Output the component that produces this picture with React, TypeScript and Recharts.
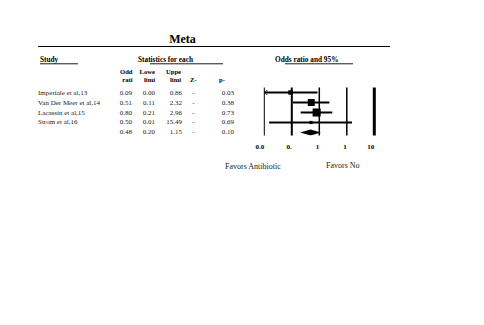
import { Area, ComposedChart, ReferenceLine, Scatter, XAxis, YAxis } from "recharts";

// Study rows (top to bottom) of the forest plot
const studies = ["Imperiale et al,13", "Van Der Meer et al,14", "Lacassin et al,15", "Strom et al,16"];
const oddsRatio = [0.09, 0.51, 0.8, 0.5];
const lowerLimit = [0.004, 0.11, 0.21, 0.015];
const upperLimit = [0.86, 2.32, 2.96, 15.49];
const pValue = [0.03, 0.38, 0.73, 0.69];
const studyWeight = [14, 34, 45, 7];

// Pooled estimate
const pooledOdds = 0.48;
const pooledLower = 0.2;
const pooledUpper = 1.15;
const pooledP = 0.1;

const xTicks = [0.01, 0.1, 1, 10, 100];
const tickLabels = ["0.0", "0.", "1", "1", "10"];

const X_MIN = xTicks[0];
const X_MAX = xTicks[xTicks.length - 1];
const SUMMARY_ROW = studies.length + 1;
const FONT = "'Liberation Serif', 'Times New Roman', serif";
const lineWidths = [1, 2, 1.5, 1.5, 3];

const squares = studies.map((s, i) => ({ x: oddsRatio[i], y: i + 1, w: studyWeight[i] }));
const intervals = studies.map((s, i) => [
  { x: Math.max(lowerLimit[i], X_MIN), y: i + 1, clipped: lowerLimit[i] < X_MIN },
  { x: upperLimit[i], y: i + 1, clipped: false },
]);
const diamond = [
  { x: pooledLower, d: [SUMMARY_ROW, SUMMARY_ROW] },
  { x: pooledOdds, d: [SUMMARY_ROW - 0.3, SUMMARY_ROW + 0.3] },
  { x: pooledUpper, d: [SUMMARY_ROW, SUMMARY_ROW] },
];

function Square(props: any) {
  const { cx, cy, payload } = props;
  const side = Math.sqrt(payload.w) * 1.2;
  return <rect x={cx - side / 2} y={cy - side / 2} width={side} height={side} fill="#000" />;
}

// Only the end that runs off the axis gets a little arrow head
function IntervalEnd(props: any) {
  const { cx, cy, payload } = props;
  if (!payload.clipped) return <g />;
  return (
    <polyline
      points={`${cx + 3},${cy - 2.5} ${cx + 0.5},${cy} ${cx + 3},${cy + 2.5}`}
      fill="none"
      stroke="#000"
      strokeWidth={0.8}
    />
  );
}

function Tick(props: any) {
  const { x, y, index } = props;
  return (
    <text x={x} y={y + 13} textAnchor="end" fontSize={7} fontWeight={700} fontFamily={FONT} fill="#000">
      {tickLabels[index]}
    </text>
  );
}

const fmt = (v: number) => v.toFixed(2);

function Table() {
  const rowY = (r: number) => 94.8 + (r - 1) * 9.85;
  const cell = { fontSize: 7, fontFamily: FONT, fill: "#222" };
  const head = { fontSize: 7.3, fontFamily: FONT, fontWeight: 700, fill: "#000" };
  const sub = { fontSize: 6.6, fontFamily: FONT, fontWeight: 700, fill: "#000" };
  const rows = [
    ...studies.map((s, i) => ({
      name: s,
      or: oddsRatio[i],
      lo: lowerLimit[i],
      hi: upperLimit[i],
      p: pValue[i],
    })),
    { name: "", or: pooledOdds, lo: pooledLower, hi: pooledUpper, p: pooledP },
  ];
  return (
    <svg width={484} height={325} style={{ position: "absolute", left: 0, top: 0, pointerEvents: "none" }}>
      <text x={182.5} y={42.5} textAnchor="middle" fontSize={12} fontWeight={700} fontFamily={FONT}>
        Meta
      </text>
      <line x1={38} x2={390} y1={46.5} y2={46.5} stroke="#000" strokeWidth={1.2} />

      <text x={40} y={62} {...head}>Study</text>
      <line x1={40} x2={78} y1={63.8} y2={63.8} stroke="#000" strokeWidth={0.9} />
      <text x={138} y={62} {...head}>Statistics for each</text>
      <line x1={150} x2={223} y1={63.8} y2={63.8} stroke="#000" strokeWidth={0.9} />
      <text x={275} y={62} {...head}>Odds ratio and 95%</text>
      <line x1={285} x2={353} y1={63.8} y2={63.8} stroke="#000" strokeWidth={0.9} />

      <text x={132.5} y={73.5} textAnchor="end" {...sub}>Odd</text>
      <text x={132.5} y={81.5} textAnchor="end" {...sub}>rati</text>
      <text x={155} y={73.5} textAnchor="end" {...sub}>Lowe</text>
      <text x={155} y={81.5} textAnchor="end" {...sub}>limi</text>
      <text x={181} y={73.5} textAnchor="end" {...sub}>Uppe</text>
      <text x={181} y={81.5} textAnchor="end" {...sub}>limi</text>
      <text x={190} y={81.5} {...sub}>Z-</text>
      <text x={219} y={81.5} {...sub}>p-</text>

      {rows.map((r, i) => (
        <g key={i}>
          <text x={38} y={rowY(i + 1)} {...cell}>{r.name}</text>
          <text x={132} y={rowY(i + 1)} textAnchor="end" {...cell}>{fmt(r.or)}</text>
          <text x={155} y={rowY(i + 1)} textAnchor="end" {...cell}>{fmt(r.lo)}</text>
          <text x={182} y={rowY(i + 1)} textAnchor="end" {...cell}>{fmt(r.hi)}</text>
          <text x={193.5} y={rowY(i + 1)} textAnchor="middle" {...cell}>-</text>
          <text x={234} y={rowY(i + 1)} textAnchor="end" {...cell}>{fmt(r.p)}</text>
        </g>
      ))}

      <text x={225} y={169} fontSize={8} fontFamily={FONT} fill="#222">Favors Antibiotic</text>
      <text x={326} y={168} fontSize={8} fontFamily={FONT} fill="#222">Favors No</text>
    </svg>
  );
}

export default function App() {
  return (
    <div style={{ position: "absolute", left: 0, top: 0, width: 484, height: 325, background: "#fff" }}>
      <ComposedChart
        width={484}
        height={325}
        margin={{ top: 87.5, right: 109.7, bottom: 169.5, left: 264.3 }}
      >
        <XAxis
          dataKey="x"
          type="number"
          scale="log"
          domain={[X_MIN, X_MAX]}
          ticks={xTicks}
          allowDataOverflow
          axisLine={false}
          tickLine={false}
          tickSize={0}
          tickMargin={0}
          height={20}
          tick={<Tick />}
          interval={0}
        />
        <YAxis dataKey="y" type="number" domain={[0.5, 5.3]} reversed hide allowDataOverflow />
        {xTicks.map((t, i) => (
          <ReferenceLine key={t} x={t} stroke="#000" strokeWidth={lineWidths[i]} />
        ))}
        {intervals.map((data, i) => (
          <Scatter
            key={studies[i]}
            data={data}
            fill="#000"
            line={{ stroke: "#000", strokeWidth: 2 }}
            shape={<IntervalEnd />}
            isAnimationActive={false}
          />
        ))}
        <Scatter data={squares} fill="#000" shape={<Square />} isAnimationActive={false} />
        <Area
          data={diamond}
          dataKey="d"
          type="linear"
          fill="#000"
          fillOpacity={1}
          stroke="none"
          dot={false}
          activeDot={false}
          isAnimationActive={false}
        />
      </ComposedChart>
      <Table />
    </div>
  );
}
